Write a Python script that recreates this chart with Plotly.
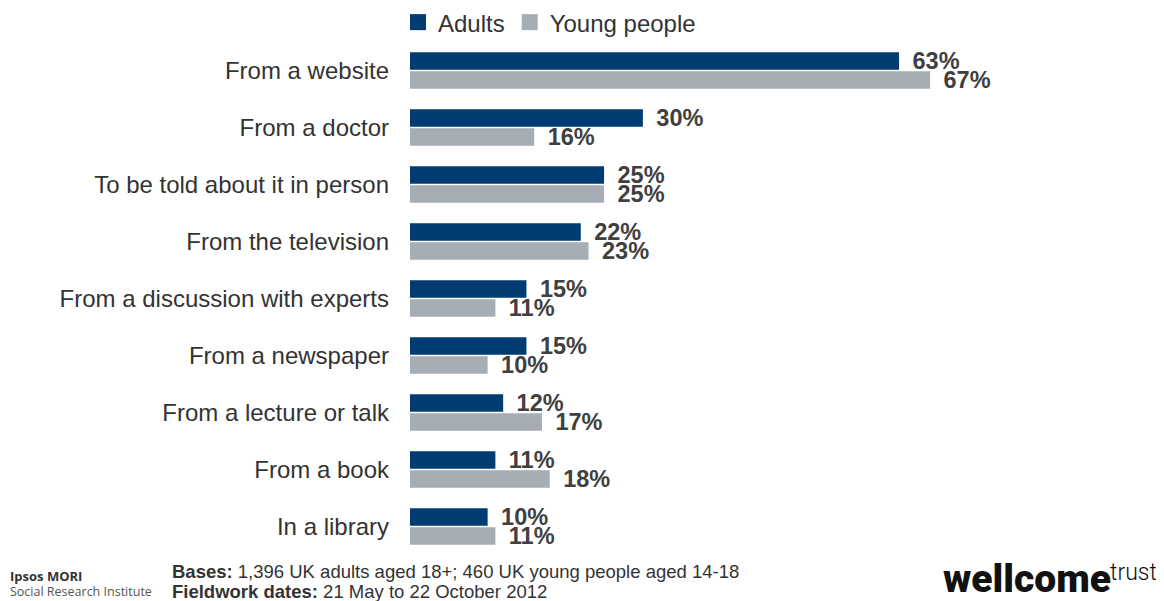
import plotly.graph_objects as go

categories = ["From a website", "From a doctor", "To be told about it in person",
              "From the television", "From a discussion with experts", "From a newspaper",
              "From a lecture or talk", "From a book", "In a library"]
adults = [63, 30, 25, 22, 15, 15, 12, 11, 10]
young = [67, 16, 25, 23, 11, 10, 17, 18, 11]
series_names = ["Adults", "Young people"]
colors = ["#003B71", "#A6ADB5"]

# the page body has an 8px margin: size the figure to fit the window exactly
O = 8
W, H = 1164 - O, 601 - O
L, R, T, B = 410 - O, 133, 41.5 - O, 45.5
pw, ph = W - L - R, H - T - B

def px(x):  # page pixel -> paper x
    return (x - O - L) / pw

def py(y):  # page pixel -> paper y
    return (H - B - (y - O)) / ph

fig = go.Figure()
for name, vals, col in zip(series_names, [adults, young], colors):
    fig.add_trace(go.Bar(
        y=categories, x=vals, orientation="h", name=name,
        marker=dict(color=col, line=dict(width=0)),
        texttemplate="\u00a0\u2006%{x}%", textposition="outside", constraintext="none",
        textfont=dict(family="Liberation Sans, Arial", size=23.5, color="#404040", weight="bold"),
        cliponaxis=False, showlegend=False,
    ))
    fig.add_trace(go.Scatter(
        x=[None], y=[None], mode="markers", name=name,
        marker=dict(symbol="square", size=18, color=col),
    ))

annotations = [
    dict(text="<b>Ipsos MORI</b>", x=px(8), y=py(577), xref="paper", yref="paper",
         xanchor="left", yanchor="middle", showarrow=False,
         font=dict(family="Open Sans, DejaVu Sans", size=13, color="#333333")),
    dict(text="Social Research Institute", x=px(8), y=py(592), xref="paper", yref="paper",
         xanchor="left", yanchor="middle", showarrow=False,
         font=dict(family="Open Sans, DejaVu Sans", size=12.5, color="#555555")),
    dict(text="<b>Bases:</b> 1,396 UK adults aged 18+; 460 UK young people aged 14-18",
         x=px(170), y=py(572), xref="paper", yref="paper", xanchor="left", yanchor="middle",
         showarrow=False, font=dict(family="Liberation Sans, Arial", size=18.5, color="#333333")),
    dict(text="<b>Fieldwork dates:</b> 21 May to 22 October 2012",
         x=px(170), y=py(592), xref="paper", yref="paper", xanchor="left", yanchor="middle",
         showarrow=False, font=dict(family="Liberation Sans, Arial", size=18.5, color="#333333")),
    dict(text="wellcome", x=px(1113), y=py(580), xref="paper", yref="paper",
         xanchor="right", yanchor="middle", showarrow=False,
         font=dict(family="Roboto, Liberation Sans", size=39, color="#111111", weight=900)),
    dict(text="trust", x=px(1108), y=py(573), xref="paper", yref="paper",
         xanchor="left", yanchor="middle", showarrow=False,
         font=dict(family="Roboto, Liberation Sans", size=23, color="#111111", weight=300)),
]

fig.update_layout(
    width=W, height=H, barmode="group", bargap=0.33, bargroupgap=0.08,
    margin=dict(l=L, r=R, t=T, b=B, pad=0, autoexpand=False),
    paper_bgcolor="white", plot_bgcolor="white",
    font=dict(family="Liberation Sans, Arial", size=24, color="#333333"),
    xaxis=dict(range=[0, 80], visible=False, fixedrange=True),
    yaxis=dict(autorange="reversed", showgrid=False, zeroline=False, showline=False,
               ticks="", ticklabelstandoff=20,
               tickfont=dict(family="Liberation Sans, Arial", size=24, color="#333333")),
    legend=dict(orientation="h", x=px(398), y=py(22), xanchor="left", yanchor="middle",
                font=dict(family="Liberation Sans, Arial", size=24, color="#333333"),
                itemwidth=30, tracegroupgap=0, bgcolor="rgba(0,0,0,0)"),
    annotations=annotations,
)

fig.write_html("out.html")
